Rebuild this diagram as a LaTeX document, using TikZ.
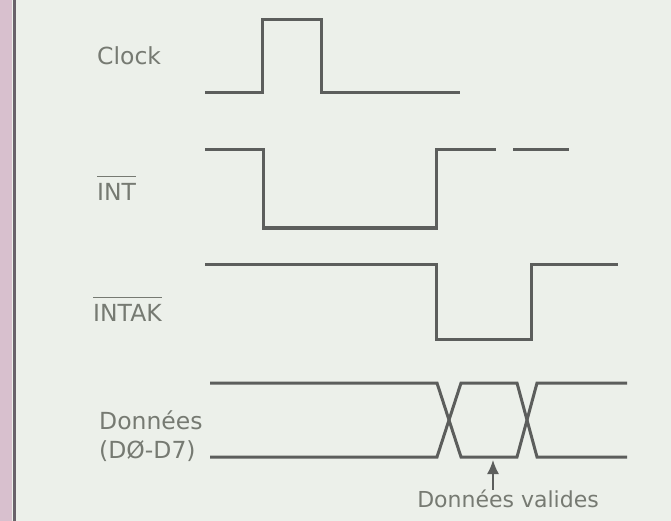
\documentclass[tikz,border=0pt]{standalone}
\usepackage{fontspec}
\setmainfont{DejaVu Sans}
\usetikzlibrary{arrows.meta}
\definecolor{paper}{RGB}{236,240,234}
\definecolor{binding}{RGB}{216,192,206}
\definecolor{spine}{RGB}{105,98,106}
\definecolor{trace}{RGB}{92,94,92}
\definecolor{ink}{RGB}{118,122,114}
\newcommand{\barred}[1]{\vbox{\hrule height 1.6pt\kern 6pt\hbox{#1}}}
\tikzset{wave/.style={draw=trace,line width=3pt,line join=miter},
  sig/.style={text=ink,font=\fontsize{23.5}{29}\selectfont,anchor=west,inner sep=0pt,align=left}}
\begin{document}
\begin{tikzpicture}[x=1pt,y=-1pt]
  \useasboundingbox (0,0) rectangle (671,521);
  \fill[paper] (0,0) rectangle (671,521);
  \fill[binding] (0,0) rectangle (12,521);
  \draw[spine,line width=3pt] (14.5,0) -- (14.5,521);
  % signal names
  \node[sig] (clk) at (97,56) {Clock};
  \node[sig] (int) at (97,188) {\barred{INT}};
  \node[sig] (intak) at (93,309) {\barred{INTAK}};
  \node[sig] (data) at (99,436) {Données\\(DØ-D7)};
  % traces
  \draw[wave] (205,93) -- (262,93) -- (262,20) -- (321,20) -- (321,93) -- (460,93);
  \draw[wave] (205,150) -- (263,150) -- (263,228) -- (436,228) -- (436,150) -- (496,150)
    (513,150) -- (569,150);
  \draw[wave] (205,264) -- (436,264) -- (436,339) -- (531,339) -- (531,264) -- (618,264);
  \foreach \A/\B in {383/457,457/383}
  {\draw[wave] (210,\A) -- (437,\A) -- (461,\B) -- (517,\B) -- (537,\A) -- (627,\A);}
  \coordinate (tip) at (493,460);
  \node[text=ink,font=\fontsize{22}{26}\selectfont,inner sep=0pt] (valid) at (508,499) {Données valides};
  \draw[trace,line width=1.5pt,-{Latex[length=14pt,width=12pt]}] (valid.north -| tip) -- (tip);
\end{tikzpicture}
\end{document}
